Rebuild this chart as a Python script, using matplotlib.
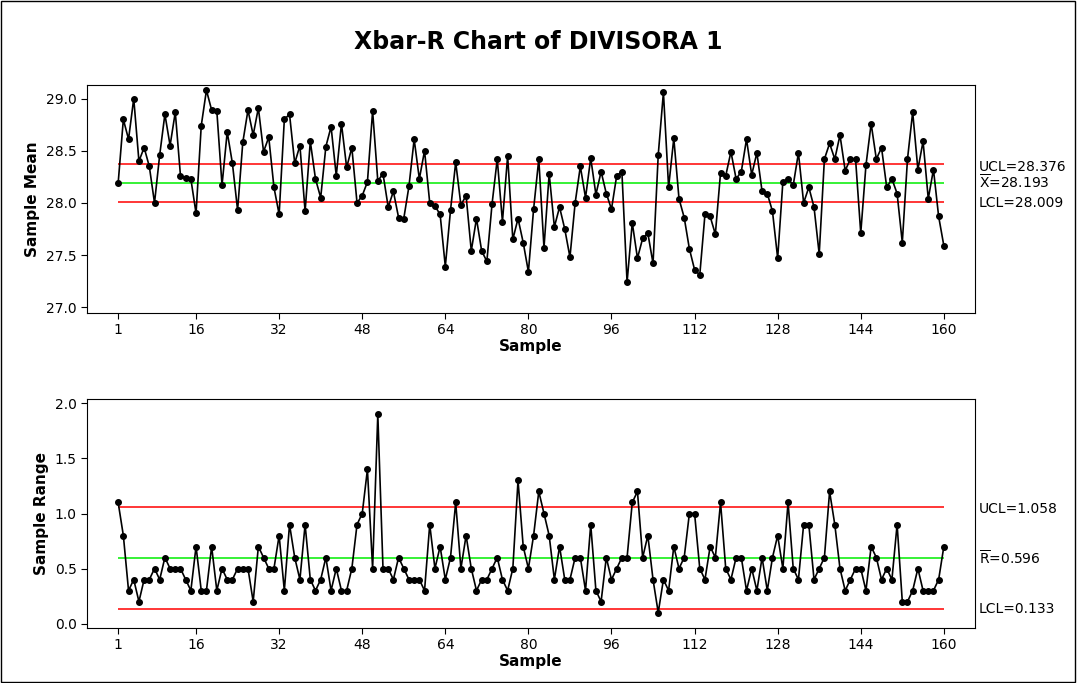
import numpy as np
import matplotlib
matplotlib.use("Agg")
import matplotlib.pyplot as plt
from matplotlib.patches import Rectangle

# sample means
means = [28.19, 28.80, 28.61, 29.00, 28.40, 28.53, 28.35, 28.00, 28.46, 28.85,
         28.55, 28.87, 28.26, 28.24, 28.23, 27.90, 28.74, 29.08, 28.89, 28.88,
         28.17, 28.68, 28.38, 27.93, 28.58, 28.89, 28.65, 28.91, 28.49, 28.63,
         28.15, 27.89, 28.80, 28.85, 28.38, 28.55, 27.92, 28.59, 28.23, 28.05,
         28.54, 28.73, 28.26, 28.76, 28.34, 28.53, 28.00, 28.07, 28.20, 28.88,
         28.21, 28.28, 27.96, 28.11, 27.86, 27.85, 28.16, 28.61, 28.23, 28.50,
         28.00, 27.97, 27.89, 27.39, 27.93, 28.39, 27.98, 28.07, 27.54, 27.85,
         27.54, 27.44, 27.99, 28.42, 27.82, 28.45, 27.65, 27.85, 27.62, 27.34,
         27.94, 28.42, 27.57, 28.28, 27.77, 27.96, 27.75, 27.48, 28.00, 28.35,
         28.05, 28.43, 28.08, 28.30, 28.09, 27.94, 28.26, 28.30, 27.24, 27.81,
         27.47, 27.66, 27.71, 27.42, 28.46, 29.06, 28.15, 28.62, 28.04, 27.86,
         27.56, 27.36, 27.31, 27.89, 27.87, 27.70, 28.29, 28.26, 28.49, 28.23,
         28.30, 28.61, 28.27, 28.48, 28.11, 28.09, 27.92, 27.47, 28.20, 28.23,
         28.17, 28.48, 28.00, 28.15, 27.96, 27.51, 28.42, 28.57, 28.42, 28.65,
         28.31, 28.42, 28.42, 27.71, 28.36, 28.76, 28.42, 28.53, 28.15, 28.23,
         28.09, 27.62, 28.42, 28.87, 28.32, 28.59, 28.04, 28.32, 27.87, 27.59]

# sample ranges
ranges = [1.1, 0.8, 0.3, 0.4, 0.2, 0.4, 0.4, 0.5, 0.4, 0.6,
          0.5, 0.5, 0.5, 0.4, 0.3, 0.7, 0.3, 0.3, 0.7, 0.3,
          0.5, 0.4, 0.4, 0.5, 0.5, 0.5, 0.2, 0.7, 0.6, 0.5,
          0.5, 0.8, 0.3, 0.9, 0.6, 0.4, 0.9, 0.4, 0.3, 0.4,
          0.6, 0.3, 0.5, 0.3, 0.3, 0.5, 0.9, 1.0, 1.4, 0.5,
          1.9, 0.5, 0.5, 0.4, 0.6, 0.5, 0.4, 0.4, 0.4, 0.3,
          0.9, 0.5, 0.7, 0.4, 0.6, 1.1, 0.5, 0.8, 0.5, 0.3,
          0.4, 0.4, 0.5, 0.6, 0.4, 0.3, 0.5, 1.3, 0.7, 0.5,
          0.8, 1.2, 1.0, 0.8, 0.4, 0.7, 0.4, 0.4, 0.6, 0.6,
          0.3, 0.9, 0.3, 0.2, 0.6, 0.4, 0.5, 0.6, 0.6, 1.1,
          1.2, 0.6, 0.8, 0.4, 0.1, 0.4, 0.3, 0.7, 0.5, 0.6,
          1.0, 1.0, 0.5, 0.4, 0.7, 0.6, 1.1, 0.5, 0.4, 0.6,
          0.6, 0.3, 0.5, 0.3, 0.6, 0.3, 0.6, 0.8, 0.5, 1.1,
          0.5, 0.4, 0.9, 0.9, 0.4, 0.5, 0.6, 1.2, 0.9, 0.5,
          0.3, 0.4, 0.5, 0.5, 0.3, 0.7, 0.6, 0.4, 0.5, 0.4,
          0.9, 0.2, 0.2, 0.3, 0.5, 0.3, 0.3, 0.3, 0.4, 0.7]

xbar_limits = [28.376, 28.193, 28.009]   # UCL, center, LCL
r_limits = [1.058, 0.596, 0.133]
xticks = [1, 16, 32, 48, 64, 80, 96, 112, 128, 144, 160]

samples = np.arange(1, len(means) + 1)

W, H = 1077, 683
fig = plt.figure(figsize=(W / 100, H / 100), dpi=100)
fig.patches.append(Rectangle((0.001, 0.001), 0.997, 0.997, transform=fig.transFigure,
                             fill=False, edgecolor="black", linewidth=1.0))

def ax_rect(left, top, right, bottom):
    return [left / W, 1 - bottom / H, (right - left) / W, (bottom - top) / H]

ax1 = fig.add_axes(ax_rect(87, 85, 975, 313))
ax2 = fig.add_axes(ax_rect(87, 399, 975, 628))

fig.text(0.5, 1 - 42 / H, "Xbar-R Chart of DIVISORA 1", ha="center", va="center",
         fontsize=17, fontweight="bold")

def draw(ax, y, limits, ylim, yticks, ylabel, labels):
    ucl, cl, lcl = limits
    ax.hlines([ucl, lcl], 1, len(y), colors="#ff0000", linewidth=1.1, zorder=1)
    ax.hlines(cl, 1, len(y), colors="#00ee00", linewidth=1.1, zorder=1)
    ax.plot(samples, y, color="black", linewidth=1.2, marker="o", markersize=4, zorder=3)
    ax.set_xlim(-5, 166)
    ax.set_ylim(*ylim)
    ax.set_xticks(xticks)
    ax.set_yticks(yticks)
    ax.set_yticklabels([f"{t:.1f}" for t in yticks])
    ax.tick_params(direction="out", length=4, labelsize=10)
    ax.set_xlabel("Sample", fontsize=11, fontweight="bold", labelpad=1)
    ax.set_ylabel(ylabel, fontsize=11, fontweight="bold")
    trans = ax.get_yaxis_transform()
    for (txt, yv, off) in labels:
        ax.text(1.004, yv + off, txt, transform=trans, ha="left", va="center", fontsize=10)

draw(ax1, means, xbar_limits, (26.945, 29.13), [27.0, 27.5, 28.0, 28.5, 29.0], "Sample Mean",
     [("UCL=28.376", 28.376, -0.03),
      (r"$\overline{\mathregular{X}}$=28.193", 28.193, 0.0),
      ("LCL=28.009", 28.009, -0.01)])
draw(ax2, ranges, r_limits, (-0.04, 2.04), [0.0, 0.5, 1.0, 1.5, 2.0], "Sample Range",
     [("UCL=1.058", 1.058, -0.02),
      (r"$\overline{\mathregular{R}}$=0.596", 0.596, 0.0),
      ("LCL=0.133", 0.133, -0.0)])

fig.savefig("out.png", dpi=100)
